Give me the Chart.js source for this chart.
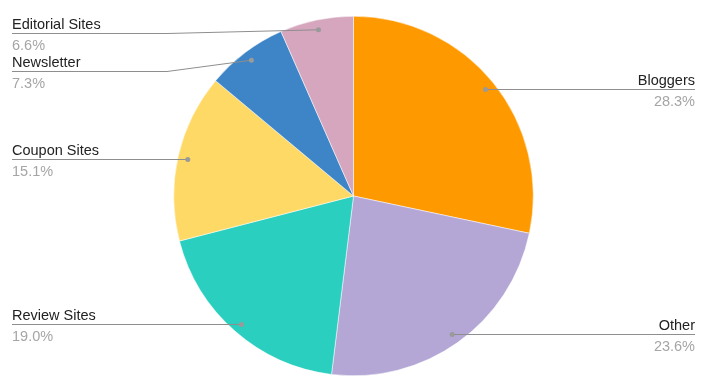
<!DOCTYPE html>
<html>
<head>
<meta charset="utf-8">
<script src="https://cdn.jsdelivr.net/npm/chart.js@4.4.1/dist/chart.umd.min.js"></script>
<style>
  html, body { margin: 0; padding: 0; background: #fff; }
  #wrap { width: 712px; height: 391px; position: relative; }
</style>
</head>
<body>
<div id="wrap"><canvas id="c" width="712" height="391"></canvas></div>
<script>
const categories = ['Bloggers', 'Other', 'Review Sites', 'Coupon Sites', 'Newsletter', 'Editorial Sites'];
const shares = [28.3, 23.6, 19.0, 15.1, 7.3, 6.6];
const colors = ['#FF9900', '#B4A7D6', '#2ACFC0', '#FFD966', '#3D85C6', '#D5A6BD'];

const FONT = '"Liberation Sans", Arial, sans-serif';

const sliceLabels = {
  id: 'sliceLabels',
  afterDraw(chart) {
    const ctx = chart.ctx;
    const meta = chart.getDatasetMeta(0);
    const total = shares.reduce((a, b) => a + b, 0);
    const left = [], right = [];
    meta.data.forEach((arc, i) => {
      const p = arc.getProps(['x', 'y', 'startAngle', 'endAngle', 'outerRadius'], true);
      const mid = (p.startAngle + p.endAngle) / 2;
      const r = p.outerRadius * 0.945;
      const dx = p.x + Math.cos(mid) * r;
      const dy = p.y + Math.sin(mid) * r;
      const item = { i, dx, dy, ly: dy };
      (dx < p.x ? left : right).push(item);
    });
    const spread = (arr) => {
      arr.sort((a, b) => a.dy - b.dy);
      let prev = -Infinity;
      arr.forEach(it => {
        it.ly = Math.max(it.dy, 33.3, prev + 38);
        prev = it.ly;
      });
    };
    spread(left); spread(right);

    const W = chart.width;
    const straight = (it) => Math.abs(it.ly - it.dy) <= 0.5;
    const drawItem = (it, side) => {
      const ly = Math.round(it.ly) + 0.5;
      const isStraight = straight(it);
      const dotY = isStraight ? ly : it.dy;
      ctx.save();
      ctx.strokeStyle = '#8e8e8e';
      ctx.lineWidth = 1;
      ctx.beginPath();
      const x0 = side === 'left' ? 12 : W - 17;
      const bend = side === 'left' ? 167 : W - 167;
      ctx.moveTo(x0, ly);
      if (isStraight) {
        ctx.lineTo(it.dx, ly);
      } else {
        ctx.lineTo(bend, ly);
        ctx.lineTo(it.dx, it.dy);
      }
      ctx.stroke();
      ctx.fillStyle = '#9a9a9a';
      ctx.beginPath();
      ctx.arc(it.dx, dotY, 2.5, 0, Math.PI * 2);
      ctx.fill();
      ctx.font = '14.5px ' + FONT;
      ctx.textBaseline = 'alphabetic';
      ctx.textAlign = side === 'left' ? 'left' : 'right';
      ctx.fillStyle = '#222222';
      ctx.fillText(categories[it.i], x0, ly - 4.5);
      ctx.fillStyle = '#a5a5a5';
      ctx.fillText((shares[it.i] / total * 100).toFixed(1) + '%', x0, ly + 16);
      ctx.restore();
    };
    left.forEach(it => drawItem(it, 'left'));
    right.forEach(it => drawItem(it, 'right'));
  }
};

new Chart(document.getElementById('c'), {
  type: 'pie',
  data: {
    labels: categories,
    datasets: [{
      data: shares,
      backgroundColor: colors,
      borderColor: '#ffffff',
      borderWidth: 0.5
    }]
  },
  options: {
    responsive: false,
    animation: false,
    layout: { padding: { top: 16, bottom: 15, left: 173.5, right: 178.5 } },
    plugins: {
      legend: { display: false },
      tooltip: { enabled: false }
    }
  },
  plugins: [sliceLabels]
});
</script>
</body>
</html>
